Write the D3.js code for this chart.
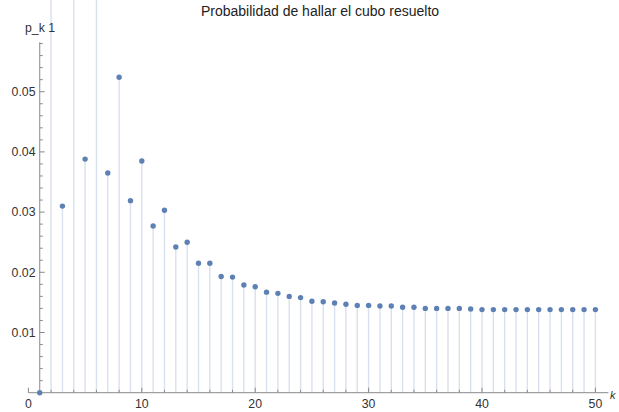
<html lang="es">
<head>
  <meta charset="UTF-8" />
  <title>Probabilidad de hallar el cubo resuelto</title>
  <style>
    body, html {
      margin: 0;
      padding: 0;
      background: white;
    }
    svg {
      display: block;
      font-family: "Liberation Sans", Arial, sans-serif;
    }
    .tick-label {
      font-size: 12.3px;
      fill: #333;
    }
  </style>
</head>
<body>
  <div id="canvas"></div>
  <script src="https://cdn.jsdelivr.net/npm/d3@7/dist/d3.min.js"></script>
  <script>
    // data: k = 1..50, p_k
    const ks = d3.range(1, 51);
    const probs = [
      0, 0.1, 0.0310, 0.1, 0.0388, 0.1, 0.0365, 0.0524, 0.0319, 0.0385,
      0.0277, 0.0303, 0.0242, 0.0250, 0.0215, 0.0215, 0.0193, 0.0192, 0.0179, 0.0176,
      0.0167, 0.0165, 0.0160, 0.0158, 0.0152, 0.0151, 0.0149, 0.0147, 0.0145, 0.0145,
      0.0144, 0.0144, 0.0142, 0.0142, 0.0140, 0.0140, 0.0140, 0.0140, 0.0139, 0.0138,
      0.0138, 0.0138, 0.0138, 0.0138, 0.0138, 0.0138, 0.0138, 0.0138, 0.0138, 0.0138
    ];
    const xTicks = [0, 10, 20, 30, 40, 50];
    const yTicks = [0.01, 0.02, 0.03, 0.04, 0.05];
    const title = "Probabilidad de hallar el cubo resuelto";

    const w = 619, h = 412;
    const blue = "#5e81b5";

    const svg = d3.select("#canvas")
      .append("svg")
      .attr("width", w)
      .attr("height", h);

    const x = d3.scaleLinear().domain([0, 50]).range([28.4, 595.4]);
    const y = d3.scaleLinear().domain([0, 0.05]).range([392.7, 91.7]);

    const axisColor = "#8a8a8a";

    // filling lines to axis
    svg.append("g")
      .selectAll("line")
      .data(ks)
      .enter()
      .append("line")
      .attr("x1", d => x(d))
      .attr("x2", d => x(d))
      .attr("y1", y(0))
      .attr("y2", (d, i) => y(probs[i]))
      .attr("stroke", "#d9e1ee")
      .attr("stroke-width", 1.4);

    // x axis
    const gx = svg.append("g");
    gx.append("line")
      .attr("x1", x(0)).attr("x2", x(51.15))
      .attr("y1", y(0)).attr("y2", y(0))
      .attr("stroke", axisColor);
    gx.selectAll(".minor")
      .data(d3.range(0, 51, 2))
      .enter()
      .append("line")
      .attr("x1", d => x(d)).attr("x2", d => x(d))
      .attr("y1", y(0)).attr("y2", d => y(0) - (d % 10 === 0 ? 5 : 3))
      .attr("stroke", axisColor);
    gx.selectAll("text")
      .data(xTicks)
      .enter()
      .append("text")
      .classed("tick-label", true)
      .attr("x", d => x(d))
      .attr("y", 408)
      .attr("text-anchor", "middle")
      .text(d => d);

    // y axis
    const gy = svg.append("g");
    gy.append("line")
      .attr("x1", x(1)).attr("x2", x(1))
      .attr("y1", y(0)).attr("y2", y(0.0582))
      .attr("stroke", axisColor);
    gy.selectAll(".minor")
      .data(d3.range(1, 30).map(i => i * 0.002))
      .enter()
      .append("line")
      .attr("x1", x(1)).attr("x2", (d, i) => x(1) + ((i + 1) % 5 === 0 ? 5 : 3))
      .attr("y1", d => y(d)).attr("y2", d => y(d))
      .attr("stroke", axisColor);
    gy.selectAll("text")
      .data(yTicks)
      .enter()
      .append("text")
      .classed("tick-label", true)
      .attr("x", 35.5)
      .attr("y", d => y(d) + 4.3)
      .attr("text-anchor", "end")
      .text(d => d.toFixed(2));

    // points
    svg.append("g")
      .selectAll("circle")
      .data(ks)
      .enter()
      .append("circle")
      .attr("cx", d => x(d))
      .attr("cy", (d, i) => y(probs[i]))
      .attr("r", 2.7)
      .attr("fill", blue);

    // labels
    svg.append("text")
      .attr("x", 25)
      .attr("y", 32)
      .style("font-size", "12.3px")
      .style("fill", "#333")
      .text("p_k 1");

    svg.append("text")
      .attr("x", 610)
      .attr("y", 399)
      .style("font-size", "11px")
      .style("font-style", "italic")
      .style("fill", "#333")
      .text("k");

    svg.append("text")
      .attr("x", 320)
      .attr("y", 16)
      .attr("text-anchor", "middle")
      .style("font-size", "14px")
      .style("fill", "#222")
      .text(title);
  </script>
</body>
</html>
